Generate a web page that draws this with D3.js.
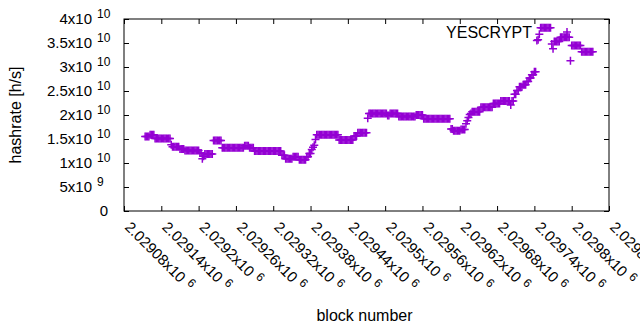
<!DOCTYPE html>
<html>
<head>
<meta charset="utf-8">
<script src="https://cdn.jsdelivr.net/npm/d3@7"></script>
<style>
    body { margin: 0; background: #fff; }
    #chart svg { display: block; font-family: 'Liberation Sans', Arial, sans-serif; }
</style>
</head>
<body>
<div id="chart"></div>
<script>
// Data
const seriesName = 'YESCRYPT';
const firstBlock = 2029114;
const blockStep = 2;
// hashrate in 1e9 h/s, one value every blockStep blocks starting at firstBlock
const hashrate = [
    15.5, 15.5, 15.5, 15.5, 15.9, 15.9, 15.9, 15.9,
    15.1, 15.1, 15.1, 15.1, 15.1, 15.1, 15.1, 15.1, 15.1, 15.1, 15.1, 15.1, 15.1,
    13.8, 13.4, 13.4, 13.4, 13.4, 13.4, 13.4, 12.9, 12.9, 12.9, 12.9,
    12.6, 12.6, 12.6, 12.6, 12.6, 12.6, 12.6, 12.6, 12.6, 12.6, 12.6, 12.6,
    12.1, 12.1, 10.9, 11.4, 11.9, 11.9, 11.9, 11.9, 11.9, 11.9, 11.9,
    14.7, 14.7, 14.7, 14.7, 14.7, 14.7, 14.7,
    13.2, 13.2, 13.2, 13.2, 13.2, 13.2, 13.2, 13.2, 13.2, 13.2, 13.2, 13.2, 13.2, 13.2, 13.2, 13.2, 13.2, 13.2,
    13.6, 13.6, 13.6, 13.6, 13.2, 13.2, 13.2, 13.2,
    12.5, 12.5, 12.5, 12.5, 12.5, 12.5, 12.5, 12.5, 12.5, 12.5, 12.5,
    12.5, 12.5, 12.5, 12.5, 12.5, 12.5, 12.5, 12.5, 12.5, 12.5, 12.5,
    11.6, 11.6, 11.6, 10.9, 10.9, 10.9, 10.9, 10.9, 10.9,
    11.3, 11.3, 11.3, 11.3, 11.3, 10.7, 10.7, 10.7, 10.7, 10.7, 10.7,
    11.3, 11.3, 12.0, 12.0, 12.8, 13.3, 13.7, 14.9,
    15.9, 15.9, 15.9, 15.9, 15.9, 15.9, 15.9, 15.9, 15.9, 15.9, 15.9, 15.9, 15.9, 15.9, 15.9, 15.9, 15.9, 15.9,
    14.8, 14.8, 14.8, 14.8, 14.8, 14.8, 14.8, 14.8, 14.8, 14.8, 14.8, 14.8,
    15.6, 15.6, 15.6, 16.3, 16.3, 16.3, 16.3, 16.3, 16.3, 16.3, 16.3,
    19.3,
    20.3, 20.3, 20.3, 20.3, 20.3, 20.3, 20.3, 20.3, 20.3, 20.3, 20.3, 20.3,
    20.3, 20.3, 20.3, 19.9, 19.9, 20.3, 20.3, 20.3, 20.3, 20.3, 20.3, 20.3,
    19.7, 19.7, 19.7, 19.7, 19.7, 19.7, 19.7, 19.7, 19.7, 19.7, 19.7, 19.7, 19.7, 19.7,
    20.0, 20.0, 20.0, 20.0, 20.0, 20.0,
    19.2, 19.2, 19.2, 19.2, 19.2, 19.2, 19.2, 19.2, 19.2, 19.2, 19.2,
    19.2, 19.2, 19.2, 19.2, 19.2, 19.2, 19.2, 19.2, 19.2, 19.2, 19.2,
    17.1, 17.1, 16.7, 16.7, 16.7, 16.7, 16.7, 16.7, 17.0, 17.0, 17.0, 17.0,
    18.2, 18.8, 19.5, 20.1, 20.3,
    20.7, 20.7, 20.7, 20.7, 20.7, 20.7, 20.7,
    21.6, 21.6, 21.6, 21.6, 21.6, 21.6, 21.6, 21.6, 21.6, 21.6,
    22.4, 22.4, 22.4, 22.4, 22.4, 22.4, 22.9, 22.9, 22.9, 22.9, 22.9, 22.9, 22.9, 22.9,
    22.1, 22.9, 22.9,
    24.3, 24.3, 25.1, 25.1, 25.9, 25.9, 25.9, 26.3, 26.3, 26.3, 27.0, 27.0, 27.7, 27.7, 28.4, 28.4, 29.0, 29.0,
    35.5, 35.7, 36.8,
    38.2, 38.2, 38.2, 38.2, 38.2, 38.2, 38.2, 38.2, 38.2,
    34.8, 33.8,
    35.3, 35.3, 35.3, 35.3, 35.3,
    36.2, 36.2, 36.2, 36.2, 36.2, 36.2, 36.2, 36.2,
    31.3,
    34.5, 34.5, 34.5, 34.5, 34.5, 34.5, 34.5, 34.5,
    33.2, 33.2, 33.2, 33.2, 33.2, 33.2, 33.2, 33.2, 33.2, 33.2
];
const xTicks = [2029080, 2029140, 2029200, 2029260, 2029320, 2029380, 2029440,
    2029500, 2029560, 2029620, 2029680, 2029740, 2029800, 2029860];
const yTicks = [0, 5e9, 1e10, 1.5e10, 2e10, 2.5e10, 3e10, 3.5e10, 4e10];

const points = hashrate.map((v, i) => [firstBlock + i * blockStep, v * 1e9]);

// Layout
const width = 640;
const height = 330;
const margin = { top: 19, right: 31, bottom: 119, left: 124 };
const color = '#9400d3';
const fontSize = 15;
const titleSize = 16;
const supSize = 12;
const tickLen = 5;

const xScale = d3.scaleLinear()
    .domain([xTicks[0], xTicks[xTicks.length - 1]])
    .range([margin.left, width - margin.right]);

const yScale = d3.scaleLinear()
    .domain([yTicks[0], yTicks[yTicks.length - 1]])
    .range([height - margin.bottom, margin.top]);

const svg = d3.select('#chart')
    .append('svg')
    .attr('width', width)
    .attr('height', height);

// split a number into mantissa / exponent like gnuplot "%h"
function sciParts(v) {
    if (v === 0) return ['0', null];
    const e = Math.floor(Math.log10(v));
    const m = +(v / Math.pow(10, e)).toFixed(5);
    return [m + 'x10', String(e)];
}

// x axis (bottom + mirrored top)
svg.append('g')
    .attr('transform', `translate(0,${height - margin.bottom})`)
    .call(d3.axisBottom(xScale).tickValues(xTicks).tickSizeInner(-tickLen).tickSizeOuter(0).tickFormat(''))
    .call(g => g.select('.domain').remove());

svg.append('g')
    .attr('transform', `translate(0,${margin.top})`)
    .call(d3.axisTop(xScale).tickValues(xTicks).tickSizeInner(-tickLen).tickSizeOuter(0).tickFormat(''))
    .call(g => g.select('.domain').remove());

const xLabels = svg.append('g')
    .selectAll('text')
    .data(xTicks)
    .join('text')
    .attr('transform', d => `translate(${xScale(d)},${height - margin.bottom + 17}) rotate(45)`)
    .attr('font-size', fontSize)
    .attr('fill', '#000');

xLabels.append('tspan')
    .text(d => +(d / 1e6).toFixed(5) + 'x10');
xLabels.append('tspan')
    .attr('dx', 5)
    .attr('dy', -5)
    .attr('font-size', supSize)
    .text('6');

// y axis (left + mirrored right)
svg.append('g')
    .attr('transform', `translate(${margin.left},0)`)
    .call(d3.axisLeft(yScale).tickValues(yTicks).tickSizeInner(-tickLen).tickSizeOuter(0).tickFormat(''))
    .call(g => g.select('.domain').remove());

svg.append('g')
    .attr('transform', `translate(${width - margin.right},0)`)
    .call(d3.axisRight(yScale).tickValues(yTicks).tickSizeInner(-tickLen).tickSizeOuter(0).tickFormat(''))
    .call(g => g.select('.domain').remove());

const yLabels = svg.append('g')
    .selectAll('g')
    .data(yTicks)
    .join('g')
    .attr('transform', d => `translate(${margin.left},${yScale(d)})`)
    .attr('font-size', fontSize)
    .attr('fill', '#000');

yLabels.append('text')
    .attr('x', d => d === 0 ? -16 : -32)
    .attr('dy', '0.35em')
    .attr('text-anchor', 'end')
    .text(d => sciParts(d)[0]);

yLabels.filter(d => d !== 0)
    .append('text')
    .attr('x', -27)
    .attr('dy', '0.35em')
    .attr('font-size', supSize)
    .attr('transform', 'translate(0,-5)')
    .text(d => sciParts(d)[1]);

// border
svg.append('rect')
    .attr('x', margin.left)
    .attr('y', margin.top)
    .attr('width', width - margin.left - margin.right)
    .attr('height', height - margin.top - margin.bottom)
    .attr('fill', 'none')
    .attr('stroke', '#000')
    .attr('stroke-width', 1);

svg.selectAll('.tick line')
    .attr('stroke', '#000');

// axis titles
svg.append('text')
    .attr('transform', `translate(21,${(margin.top + height - margin.bottom) / 2}) rotate(-90)`)
    .attr('text-anchor', 'middle')
    .attr('font-size', titleSize)
    .text('hashrate [h/s]');

svg.append('text')
    .attr('x', (margin.left + width - margin.right) / 2 - 2)
    .attr('y', 321)
    .attr('text-anchor', 'middle')
    .attr('font-size', titleSize)
    .text('block number');

// points
const plus = 'M-4,0H4M0,-4V4';

svg.append('g')
    .selectAll('path')
    .data(points)
    .join('path')
    .attr('transform', d => `translate(${xScale(d[0])},${yScale(d[1])})`)
    .attr('d', plus)
    .attr('fill', 'none')
    .attr('stroke', color)
    .attr('stroke-width', 1.5);

// key
const keyX = width - margin.right - 42;
const keyY = margin.top + 13;

svg.append('text')
    .attr('x', keyX - 35)
    .attr('y', keyY)
    .attr('dy', '0.35em')
    .attr('text-anchor', 'end')
    .attr('font-size', titleSize)
    .text(seriesName);

svg.append('path')
    .attr('transform', `translate(${keyX},${keyY})`)
    .attr('d', plus)
    .attr('fill', 'none')
    .attr('stroke', color)
    .attr('stroke-width', 1.5);
</script>
</body>
</html>
